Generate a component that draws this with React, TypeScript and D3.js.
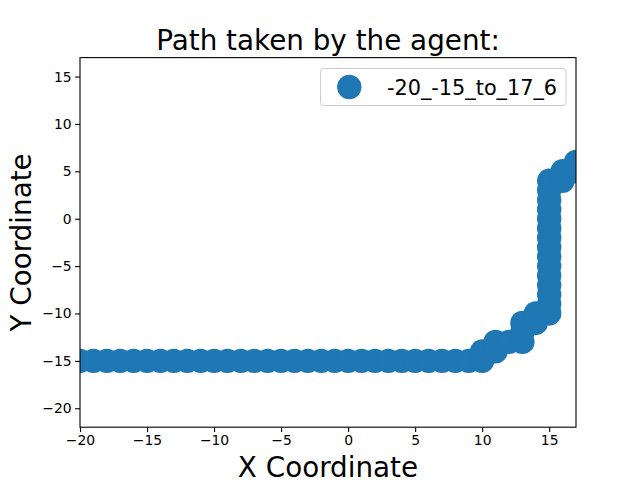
import React, { useEffect, useRef } from 'react';
import * as d3 from 'd3';

const svgWidth = 640;
const svgHeight = 480;
const margin = { top: 57.6, right: 64, bottom: 52.8, left: 80 };
const chartWidth = svgWidth - margin.left - margin.right;
const chartHeight = svgHeight - margin.top - margin.bottom;

// path of the agent
const pathX = [
  -20, -19, -18, -17, -16, -15, -14, -13, -12, -11, -10, -9, -8, -7, -6, -5,
  -4, -3, -2, -1, 0, 1, 2, 3, 4, 5, 6, 7, 8, 9, 10,
  10, 11, 11, 12, 13, 13, 13, 14, 14, 15,
  15, 15, 15, 15, 15, 15, 15, 15, 15, 15, 15, 15, 15, 15,
  16, 16, 17, 17,
];
const pathY = [
  -15, -15, -15, -15, -15, -15, -15, -15, -15, -15, -15, -15, -15, -15, -15, -15,
  -15, -15, -15, -15, -15, -15, -15, -15, -15, -15, -15, -15, -15, -15, -15,
  -14, -14, -13, -13, -13, -12, -11, -11, -10, -10,
  -9, -8, -7, -6, -5, -4, -3, -2, -1, 0, 1, 2, 3, 4,
  4, 5, 5, 6,
];
const seriesName = '-20_-15_to_17_6';
const xTicks = [-20, -15, -10, -5, 0, 5, 10, 15];
const yTicks = [-20, -15, -10, -5, 0, 5, 10, 15];

const blue = '#1f77b4';
const font = 'DejaVu Sans, sans-serif';
const fmt = (v: number) => (v < 0 ? '\u2212' + Math.abs(v) : String(v));

const App = () => {
  const ref = useRef<SVGSVGElement | null>(null);

  useEffect(() => {
    if (!ref.current) return;
    const svg = d3.select(ref.current);
    svg.selectAll('*').remove();

    const x = d3.scaleLinear().domain([-20, 17]).range([0, chartWidth]);
    const y = d3.scaleLinear().domain([-22, 17]).range([chartHeight, 0]);

    svg.append('defs').append('clipPath').attr('id', 'plot-clip')
      .append('rect').attr('width', chartWidth).attr('height', chartHeight);

    const g = svg.append('g').attr('transform', `translate(${margin.left},${margin.top})`);

    g.append('g').attr('clip-path', 'url(#plot-clip)')
      .selectAll('circle')
      .data(pathX.map((v, i) => [v, pathY[i]]))
      .enter()
      .append('circle')
      .attr('cx', d => x(d[0]))
      .attr('cy', d => y(d[1]))
      .attr('r', 12.2)
      .attr('fill', blue);

    const xAxis = g.append('g')
      .attr('transform', `translate(0,${chartHeight})`)
      .call(d3.axisBottom(x).tickValues(xTicks).tickFormat(d => fmt(+d)).tickSizeOuter(0).tickSize(4.9).tickPadding(3.5));
    const yAxis = g.append('g')
      .call(d3.axisLeft(y).tickValues(yTicks).tickFormat(d => fmt(+d)).tickSizeOuter(0).tickSize(4.9).tickPadding(3.5));
    [xAxis, yAxis].forEach(a => {
      a.select('.domain').remove();
      a.selectAll('line').attr('stroke', '#000').attr('stroke-width', 1.1);
      a.selectAll('text').attr('font-family', font).attr('font-size', 13.9).attr('fill', '#000');
    });

    // spines
    g.append('rect')
      .attr('width', chartWidth).attr('height', chartHeight)
      .attr('fill', 'none').attr('stroke', '#000').attr('stroke-width', 1.1);

    // titles
    svg.append('text')
      .attr('x', margin.left + chartWidth / 2).attr('y', 49.5)
      .attr('text-anchor', 'middle').attr('font-family', font).attr('font-size', 27.8)
      .text('Path taken by the agent:');
    svg.append('text')
      .attr('x', margin.left + chartWidth / 2).attr('y', 477)
      .attr('text-anchor', 'middle').attr('font-family', font).attr('font-size', 27.8)
      .text('X Coordinate');
    svg.append('text')
      .attr('transform', `translate(31,${margin.top + chartHeight / 2}) rotate(-90)`)
      .attr('text-anchor', 'middle').attr('font-family', font).attr('font-size', 27.8)
      .text('Y Coordinate');

    // legend
    const legend = svg.append('g').attr('transform', 'translate(320.5,68.5)');
    legend.append('rect')
      .attr('width', 245.5).attr('height', 37).attr('rx', 3)
      .attr('fill', '#fff').attr('fill-opacity', 0.8)
      .attr('stroke', '#cccccc').attr('stroke-width', 1);
    legend.append('circle').attr('cx', 28.8).attr('cy', 18.5).attr('r', 12.2).attr('fill', blue);
    legend.append('text')
      .attr('x', 66.5).attr('y', 26)
      .attr('font-family', font).attr('font-size', 20.8)
      .text(seriesName);
  }, []);

  return (
    <svg
      ref={ref}
      width={svgWidth}
      height={svgHeight}
      style={{ position: 'absolute', left: 0, top: 0, background: '#fff' }}
    />
  );
};

export default App;
